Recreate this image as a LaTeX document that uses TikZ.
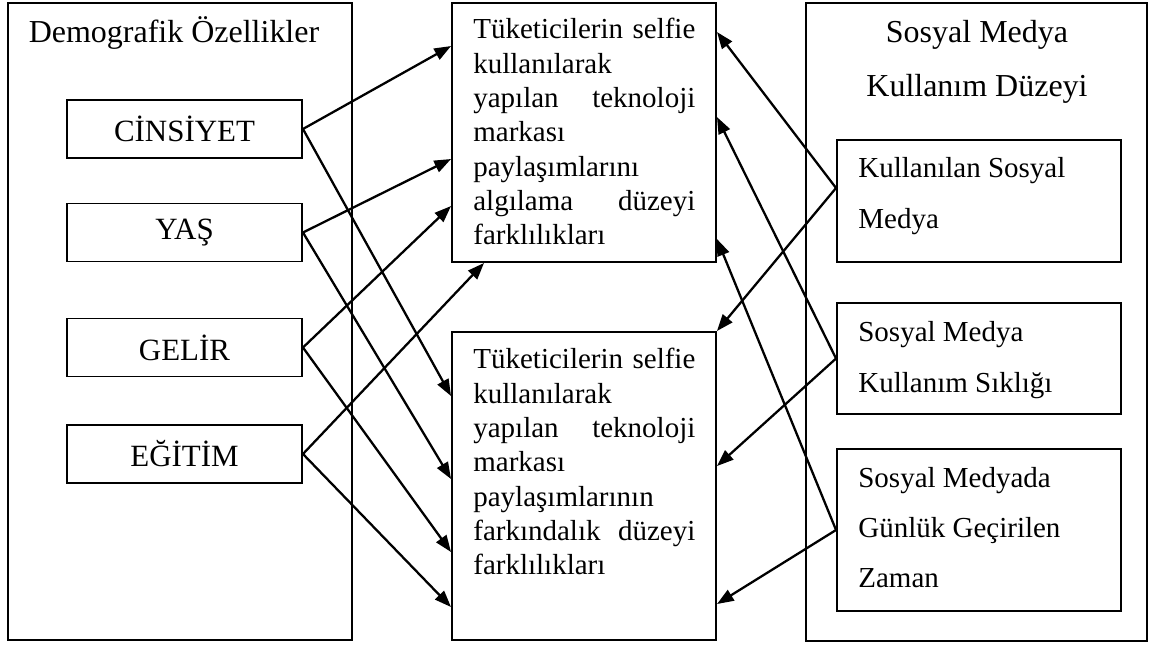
\documentclass[tikz,border=0pt]{standalone}
\usepackage{fontspec}
\setmainfont{Liberation Serif}
\usetikzlibrary{positioning}
\usetikzlibrary{arrows.meta}
\tikzset{
    frame/.style={draw, line width=1.1pt, inner sep=0pt},
    factor/.style={frame, minimum width=4.7cm, minimum height=1.16cm,
        font=\fontsize{17.6}{20}\selectfont},
    heading/.style={anchor=base, inner sep=0pt, text width=6.4cm, align=flush center,
        font=\fontsize{18.2}{30.7}\selectfont},
    longtext/.style={anchor=base west, inner sep=0pt, text width=4.44cm, align=flush left,
        font=\fontsize{16.5}{19.5}\selectfont},
    mediatext/.style={anchor=base west, inner sep=0pt, text width=5.2cm, align=flush left,
        font=\fontsize{16.5}{28.5}\selectfont},
    link/.style={-{Triangle[length=9.5pt,width=7pt]}, line width=1.3pt}
}

\begin{document}
\begin{tikzpicture}
    \useasboundingbox (0,0) rectangle (23.04,-13);

    % left column
    \node[frame, minimum width=6.88cm, minimum height=12.74cm] (DEMO) at (3.6,-6.43) {};
    \node[heading] (DEMOTXT) at (3.48,-0.86) {Demografik Özellikler};
    \node[factor] (CINS) at (3.69,-2.58) {CİNSİYET};
    \node[factor] (YAS) at (3.69,-4.65) {YAŞ};
    \node[factor] (GELIR) at (3.69,-6.95) {GELİR};
    \node[factor] (EGITIM) at (3.69,-9.08) {EĞİTİM};

    % middle column
    \node[frame, minimum width=5.28cm, minimum height=5.18cm] (ALGI) at (11.68,-2.65) {};
    \node[longtext] (ALGITXT) at (9.46,-0.78) {Tüketicilerin\hfill selfie\\
        kullanılarak\\ yapılan\hfill teknoloji\\ markası\\ paylaşımlarını\\
        algılama\hfill düzeyi\\ farklılıkları};
    \node[frame, minimum width=5.28cm, minimum height=6.16cm] (FARK) at (11.68,-9.72) {};
    \node[longtext] (FARKTXT) at (9.46,-7.38) {Tüketicilerin\hfill selfie\\
        kullanılarak\\ yapılan\hfill teknoloji\\ markası\\ paylaşımlarının\\
        farkındalık\hfill düzeyi\\ farklılıkları};

    % right column
    \node[frame, minimum width=6.82cm, minimum height=12.76cm] (MEDYA) at (19.53,-6.44) {};
    \node[heading] (MEDYATXT) at (19.54,-0.86) {Sosyal Medya\\ Kullanım Düzeyi};
    \node[frame, minimum width=5.68cm, minimum height=2.44cm] (KULL) at (19.58,-4.02) {};
    \node[mediatext] (KULLTXT) at (17.16,-3.56) {Kullanılan Sosyal\\ Medya};
    \node[frame, minimum width=5.68cm, minimum height=2.22cm] (SIKLIK) at (19.58,-7.17) {};
    \node[mediatext] (SIKLIKTXT) at (17.16,-6.84) {Sosyal Medya\\ Kullanım Sıklığı};
    \node[frame, minimum width=5.68cm, minimum height=3.24cm] (ZAMAN) at (19.58,-10.6) {};
    \node[mediatext] (ZAMANTXT) at (17.16,-9.74) {Sosyal Medyada\\ Günlük Geçirilen\\ Zaman};

    % demographics -> perception
    \draw[link] (CINS.east) -- ([yshift=-0.88cm]ALGI.north west);
    \draw[link] (CINS.east) -- ([yshift=-1.3cm]FARK.north west);
    \draw[link] (YAS.east) -- ([yshift=-3.14cm]ALGI.north west);
    \draw[link] (YAS.east) -- ([yshift=-2.96cm]FARK.north west);
    \draw[link] (GELIR.east) -- ([yshift=-4.08cm]ALGI.north west);
    \draw[link] (GELIR.east) -- ([yshift=-4.42cm]FARK.north west);
    \draw[link] (EGITIM.east) -- ([xshift=0.66cm]ALGI.south west);
    \draw[link] (EGITIM.east) -- ([yshift=-5.52cm]FARK.north west);

    % media use -> perception
    \draw[link] ([yshift=0.26cm]KULL.west) -- ([yshift=-0.6cm]ALGI.north east);
    \draw[link] ([yshift=0.26cm]KULL.west) -- (FARK.north east);
    \draw[link] (SIKLIK.west) -- ([yshift=-2.3cm]ALGI.north east);
    \draw[link] (SIKLIK.west) -- ([yshift=-2.7cm]FARK.north east);
    \draw[link] (ZAMAN.west) -- ([yshift=-4.74cm]ALGI.north east);
    \draw[link] (ZAMAN.west) -- ([yshift=-5.46cm]FARK.north east);
\end{tikzpicture}
\end{document}
